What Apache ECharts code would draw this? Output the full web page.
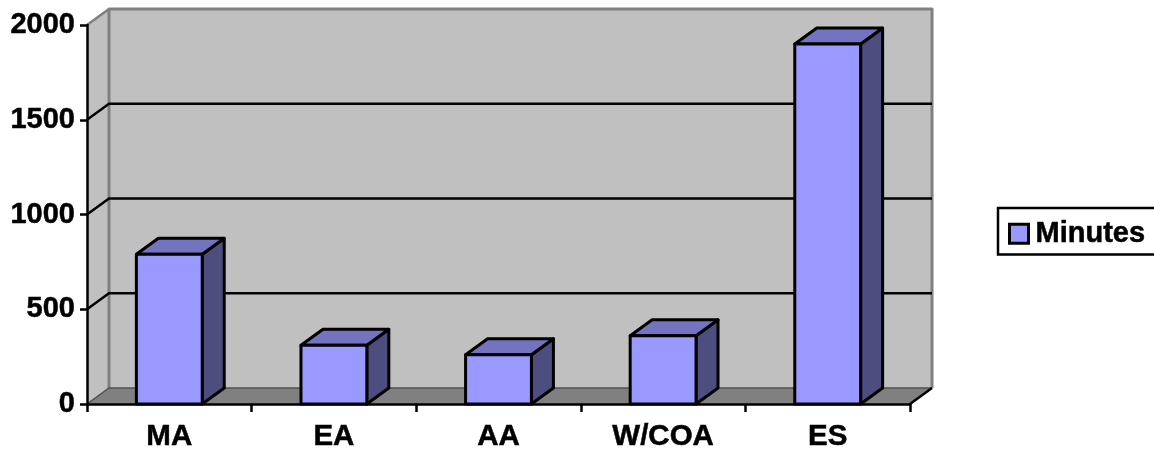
<!DOCTYPE html>
<html>
<head>
<meta charset="utf-8">
<style>html,body{margin:0;padding:0;background:#fff}#chart{width:1154px;height:450px}</style>
<script src="https://cdn.jsdelivr.net/npm/echarts@6/dist/echarts.min.js"></script>
</head>
<body>
<div id="chart"></div>
<script>
const categories = ['MA', 'EA', 'AA', 'W/COA', 'ES'];
const minutes = [790, 310, 260, 360, 1900];
const yTicks = [500, 1000, 1500, 2000];

// Oblique projection offset of the chart's depth, in pixels.
const DEPTH_X = 22;
const DEPTH_Y = -16;
const BAR_RATIO = 0.4;
const FONT = '"Liberation Sans", Arial, sans-serif';
const HEAVY = { textBorderColor: '#000', textBorderWidth: 0.5 };

const back = (p) => [p[0] + DEPTH_X, p[1] + DEPTH_Y];

// Plot corners on the front plane, from the axis scales.
function plotCorners(api) {
  const band = api.size([1, 0])[0];
  const first = api.coord([0, 0]);
  const last = api.coord([categories.length - 1, 0]);
  const top = api.coord([0, 2000])[1];
  return { left: first[0] - band / 2, right: last[0] + band / 2, base: first[1], top };
}

function renderWalls(params, api) {
  const c = plotCorners(api);
  const bl = [c.left, c.base], tl = [c.left, c.top];
  const br = [c.right, c.base], tr = [c.right, c.top];
  return {
    type: 'group',
    children: [
      { type: 'polygon', shape: { points: [bl, tl, back(tl), back(bl)] },
        style: { fill: '#c0c0c0', stroke: null } },
      { type: 'polygon', shape: { points: [back(bl), back(tl), back(tr), back(br)] },
        style: { fill: '#c0c0c0', stroke: null } },
      { type: 'polygon', shape: { points: [bl, back(bl), back(br), br] },
        style: { fill: '#808080', stroke: null } },
      { type: 'polyline', shape: { points: [tl, back(tl)] },
        style: { fill: null, stroke: '#808080', lineWidth: 2.5 } },
      { type: 'polyline', shape: { points: [back(bl), back(tl), back(tr), back(br)] },
        style: { fill: null, stroke: '#808080', lineWidth: 3, lineJoin: 'round' } },
      { type: 'polyline', shape: { points: [bl, back(bl), back(br)] },
        style: { fill: null, stroke: '#505050', lineWidth: 1.5 } },
      { type: 'polyline', shape: { points: [br, back(br)] },
        style: { fill: null, stroke: '#000', lineWidth: 2.5 } }
    ]
  };
}

// One gridline per tick: diagonal across the side wall, then along the back wall.
function renderGridline(params, api) {
  const c = plotCorners(api);
  const y = api.coord([0, api.value(0)])[1];
  const onFront = [c.left, y];
  const onBack = back(onFront);
  return {
    type: 'polyline',
    shape: { points: [onFront, onBack, [c.right + DEPTH_X, onBack[1]]] },
    style: { fill: null, stroke: '#000', lineWidth: 2.5 }
  };
}

function renderBar(params, api) {
  const idx = api.value(0);
  const base = api.coord([idx, 0]);
  const top = api.coord([idx, api.value(1)]);
  const w = api.size([1, 0])[0] * BAR_RATIO;
  const tl = [base[0] - w / 2, top[1]], tr = [base[0] + w / 2, top[1]];
  const bl = [base[0] - w / 2, base[1]], br = [base[0] + w / 2, base[1]];
  const edge = { stroke: '#000', lineWidth: 3, lineJoin: 'round' };
  return {
    type: 'group',
    children: [
      { type: 'polygon', shape: { points: [tr, br, back(br), back(tr)] },
        style: Object.assign({ fill: '#4d4d80' }, edge) },
      { type: 'polygon', shape: { points: [tl, tr, back(tr), back(tl)] },
        style: Object.assign({ fill: '#7373bf' }, edge) },
      { type: 'polygon', shape: { points: [tl, tr, br, bl] },
        style: Object.assign({ fill: '#9999ff' }, edge) }
    ]
  };
}

const chart = echarts.init(document.getElementById('chart'), null, { renderer: 'canvas' });
chart.setOption({
  animation: false,
  backgroundColor: '#fff',
  grid: { left: 87, right: 244, top: 25, bottom: 46, outerBoundsMode: 'none' },
  legend: {
    data: [{ name: 'Minutes', icon: 'rect',
      itemStyle: { color: '#9999ff', borderColor: '#000', borderWidth: 3 } }],
    left: 998, top: 208,
    padding: [11, 30, 6, 10],
    itemWidth: 19, itemHeight: 19, itemGap: 0,
    selectedMode: false,
    backgroundColor: '#fff', borderColor: '#000', borderWidth: 2.5,
    textStyle: Object.assign({ color: '#000', fontFamily: FONT, fontWeight: 'bold', fontSize: 29, padding: [0, 0, 0, 2] }, HEAVY)
  },
  xAxis: {
    type: 'category', data: categories, boundaryGap: true, z: 6,
    axisLine: { lineStyle: { color: '#000', width: 2.5 } },
    axisTick: { show: true, alignWithLabel: false, length: 8, lineStyle: { color: '#000', width: 2.5 } },
    axisLabel: Object.assign({ color: '#000', fontFamily: FONT, fontWeight: 'bold', fontSize: 29.5, margin: 18, interval: 0 }, HEAVY),
    splitLine: { show: false }
  },
  yAxis: {
    type: 'value', min: 0, max: 2000, interval: 500, z: 6,
    axisLine: { show: true, lineStyle: { color: '#000', width: 2.5 } },
    axisTick: { show: true, length: 7, lineStyle: { color: '#000', width: 2.5 } },
    axisLabel: Object.assign({ color: '#000', fontFamily: FONT, fontWeight: 'bold', fontSize: 29, margin: 12,
      padding: [5, 0, 0, 0], formatter: (v) => String(v) }, HEAVY),
    splitLine: { show: false }
  },
  series: [
    { name: 'walls', type: 'custom', z: 1, silent: true, clip: false,
      data: [[0]], renderItem: renderWalls },
    { name: 'gridlines', type: 'custom', z: 2, silent: true, clip: false,
      data: yTicks.filter(v => v < 2000).map(v => [v]), renderItem: renderGridline },
    { name: 'Minutes', type: 'custom', z: 3, clip: false,
      itemStyle: { color: '#9999ff' },
      encode: { x: 0, y: 1 },
      data: minutes.map((v, i) => [i, v]), renderItem: renderBar }
  ]
});
</script>
</body>
</html>
